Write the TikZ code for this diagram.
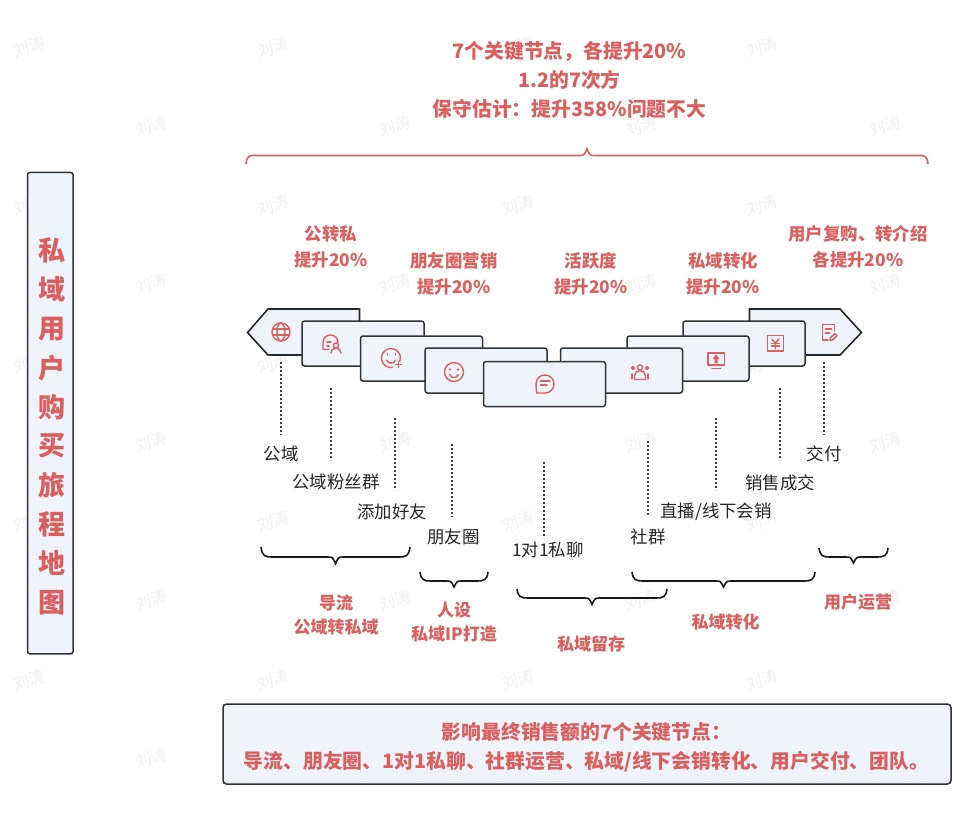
\documentclass[tikz,border=0pt]{standalone}
\usepackage{fontspec}
\usepackage{xcolor}
\setmainfont{Noto Sans CJK SC}
\usetikzlibrary{positioning,calc}
\definecolor{redtext}{HTML}{D9605E}
\definecolor{boxfill}{HTML}{EFF4FC}
\definecolor{boxline}{HTML}{2F3336}
\definecolor{marktext}{HTML}{F1F1F1}
\tikzset{
    redlabel/.style={text=redtext, font=\fontsize{17.4}{26}\selectfont\bfseries, align=center, inner sep=0pt},
    grouplabel/.style={redlabel, font=\fontsize{17}{24}\selectfont\bfseries},
    biglabel/.style={redlabel, font=\fontsize{19.8}{29}\selectfont\bfseries},
    blacklabel/.style={text=black!85, font=\fontsize{17.4}{20}\selectfont, inner sep=0pt},
    stepbox/.style={draw=boxline, fill=boxfill, line width=1.5pt, rounded corners=2.5pt, minimum width=122pt, minimum height=45pt, inner sep=0pt},
    arrowbox/.style={draw=boxline!80!black, fill=boxfill, line width=1.6pt},
    leader/.style={dash pattern=on 2pt off 2pt, black!75, line width=1.4pt},
    bracket/.style={black!90, line width=1.6pt},
    icon/.style={redtext, line width=1.4pt, line cap=round, line join=round},
    watermark/.style={text=marktext, font=\fontsize{16}{18}\selectfont, rotate=15, inner sep=0pt}
}
% curly bracket: x left, x right, y of the ends, y of the flat part, y of the tip
\newcommand{\curlybrace}[6][bracket]{%
    \draw[#1] (#2,#4) .. controls ({#2+1},{#5-1}) and ({#2+4},#5) .. ({#2+11},#5)
        -- ({(#2+#3)/2-8},#5) .. controls ({(#2+#3)/2-3},#5) .. ({(#2+#3)/2},#6)
        .. controls ({(#2+#3)/2+3},#5) .. ({(#2+#3)/2+8},#5)
        -- ({#3-11},#5) .. controls ({#3-4},#5) and ({#3-1},{#5-1}) .. (#3,#4);%
}
\begin{document}
\begin{tikzpicture}[x=1pt, y=-1pt]
    \useasboundingbox (0,0) rectangle (973,817);
    \fill[white] (0,0) rectangle (973,817);

    % Watermarks
    \foreach \mx in {29,273,518,762} {
        \foreach \my in {47,205,363,521,680} {
            \node[watermark] at (\mx,\my) {刘涛};
        }
    }
    \foreach \mx in {151,395,641,885} {
        \foreach \my in {126,284,442,600} {
            \node[watermark] at (\mx,\my) {刘涛};
        }
    }
    \node[watermark] at (151,758) {刘涛};

    % Vertical title
    \node[stepbox, minimum width=45.5pt, minimum height=481.5pt] (titlebox) at (50.3,413.2) {};
    \foreach \ch [count=\i from 0] in {私,域,用,户,购,买,旅,程,地,图} {
        \node[text=redtext, font=\fontsize{27}{27}\selectfont\bfseries, inner sep=0pt] (title\i) at (51.5,{250.5+39.1*\i}) {\ch};
    }

    % Summary on top
    \node[biglabel] (summary) at (569.5,80) {7个关键节点，各提升20\%\\1.2的7次方\\保守估计：提升358\%问题不大};
    \curlybrace[bracket, redtext]{246}{928}{164}{155.5}{149}

    % Labels above the steps
    \node[redlabel] (upa) at (331,247) {公转私\\提升20\%};
    \node[redlabel] (upb) at (454,274) {朋友圈营销\\提升20\%};
    \node[redlabel] (upc) at (591,274) {活跃度\\提升20\%};
    \node[redlabel] (upd) at (723,274) {私域转化\\提升20\%};
    \node[redlabel] (upe) at (858,247) {用户复购、转介绍\\各提升20\%};

    % Steps, left side
    \draw[arrowbox] (247.5,332.5) -- (268,309) -- (359.5,309) -- (359.5,355) -- (268,355) -- cycle;
    \node[stepbox] (boxb) at (363,343.5) {};
    \node[stepbox] (boxc) at (421.5,358.5) {};
    \node[stepbox] (boxd) at (486,370.5) {};

    % Steps, right side
    \draw[arrowbox] (861.5,332.5) -- (840,309) -- (749.5,309) -- (749.5,355) -- (840,355) -- cycle;
    \node[stepbox] (boxh) at (744,343.5) {};
    \node[stepbox] (boxg) at (688,358.5) {};
    \node[stepbox] (boxf) at (621.5,370.5) {};
    \node[stepbox] (boxe) at (544.5,384) {};

    % Icons
    \begin{scope}[icon]
        % globe
        \draw (281,332) circle (9);
        \draw (281,332) ellipse (4 and 9);
        \draw (272.5,329) -- (289.5,329) (272.5,335) -- (289.5,335);
        % card with person
        \draw (329,349.5) -- (323,349.5) -- (323,342.5) arc[start angle=180, end angle=360, radius=7.5];
        \draw (327,342) -- (331,342) (327,346) -- (329,346);
        \draw (336,345.5) circle (2.6);
        \draw (331,353) arc[start angle=180, end angle=360, radius=5];
        % smile with plus
        \draw (392.6,367.4) arc[start angle=80, end angle=380, radius=9.5];
        \draw (387.5,353.5) -- (387.5,355) (395.5,353.5) -- (395.5,355);
        \draw (386.5,360) arc[start angle=160, end angle=20, radius=5];
        \draw (398.5,361.5) -- (398.5,367.5) (395.5,364.5) -- (401.5,364.5);
        % smile
        \draw (454,372) circle (9.5);
        \draw (450,369) -- (450,370) (458,369) -- (458,370);
        \draw (449.5,374.5) arc[start angle=160, end angle=20, radius=4.8];
        % chat
        \draw (536.5,393) -- (536,384) arc[start angle=180, end angle=450, radius=9] -- cycle;
        \draw (540.5,381) -- (550,381) (540.5,385) -- (547,385);
        % people
        \draw (640,367.5) circle (2.6);
        \draw (633,368) circle (1.5) (647,368) circle (1.5);
        \draw (634.5,379.5) -- (634.5,376) arc[start angle=180, end angle=360, radius=5.5] -- (645.5,379.5) -- cycle;
        \draw (632,374) -- (632,379) (648,374) -- (648,379);
        % monitor
        \draw (708,353) rectangle (724.5,365);
        \draw (712,368.5) -- (720.5,368.5);
        \fill (716,354.5) -- (719.5,359) -- (717.5,359) -- (717.5,363) -- (714.5,363) -- (714.5,359) -- (712.5,359) -- cycle;
        % yen
        \draw (767.5,335.5) rectangle (783.5,351);
        \draw (772,339) -- (775.5,343) -- (779,339) (775.5,343) -- (775.5,348.5);
        \draw (771.5,343.5) -- (779.5,343.5) (771.5,346) -- (779.5,346);
        % note with pen
        \draw (834.5,331) -- (834.5,324.5) -- (822.5,324.5) -- (822.5,340) -- (828,340);
        \draw (825.5,329) -- (831.5,329) (825.5,333) -- (829.5,333);
        \draw (830,340.5) -- (830.5,337.5) -- (835,333.5) -- (837,335.5) -- (832.5,340) -- cycle;
    \end{scope}

    % Dotted leaders
    \foreach \leadname/\lx/\ly/\lz in {la/281/362/435, lb/331/388/460, lc/395/418/490, ld/452/444/517, le/544/462/536, lf/648/441/517, lg/716/418/490, lh/780/388/460, li/824/362/435} {
        \coordinate (\leadname top) at (\lx,\ly);
        \coordinate (\leadname end) at (\lx,\lz);
        \draw[leader] (\leadname top) -- (\leadname end);
    }

    % Labels under the leaders
    \node[blacklabel] (laba) at (281,453.5) {公域};
    \node[blacklabel] (labb) at (336,482) {公域粉丝群};
    \node[blacklabel] (labc) at (392,511.5) {添加好友};
    \node[blacklabel] (labd) at (453.5,536.5) {朋友圈};
    \node[blacklabel] (labe) at (548,549.5) {1对1私聊};
    \node[blacklabel] (labf) at (648,536.5) {社群};
    \node[blacklabel] (labg) at (716,511.5) {直播/线下会销};
    \node[blacklabel] (labh) at (780,482.5) {销售成交};
    \node[blacklabel] (labi) at (824,453.5) {交付};

    % Brackets below
    \curlybrace{261}{410}{547}{557}{563.5}
    \curlybrace{420}{488}{572}{581}{587}
    \curlybrace{517}{667}{589}{598}{604.5}
    \curlybrace{632}{815}{572}{581}{587}
    \curlybrace{819}{888}{548}{557}{563}

    % Groups
    \node[grouplabel] (groupa) at (336,615) {导流\\公域转私域};
    \node[grouplabel] (groupb) at (454,622.5) {人设\\私域IP打造};
    \node[grouplabel] (groupc) at (591,643.5) {私域留存};
    \node[grouplabel] (groupd) at (725.5,622.5) {私域转化};
    \node[grouplabel] (groupe) at (858,602) {用户运营};

    % Bottom box
    \node[stepbox, minimum width=728pt, minimum height=80pt, rounded corners=3.5pt] (bottombox) at (587,744) {};
    \node[biglabel] (bottomtext) at (586.5,747.5) {影响最终销售额的7个关键节点：\\导流、朋友圈、1对1私聊、社群运营、私域/线下会销转化、用户交付、团队。};
\end{tikzpicture}
\end{document}
